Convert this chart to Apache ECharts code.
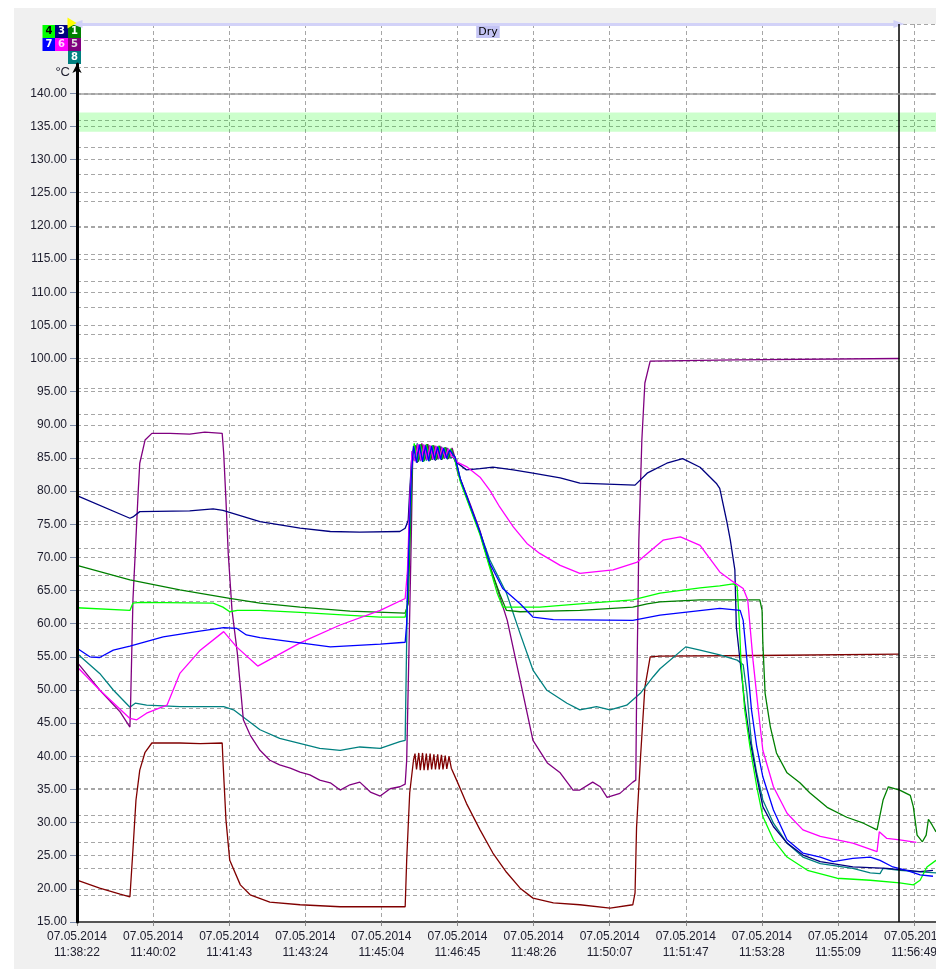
<!DOCTYPE html>
<html>
<head>
<meta charset="utf-8">
<title>Dry</title>
<script src="https://cdn.jsdelivr.net/npm/echarts@6.0.0/dist/echarts.min.js"></script>
<style>
  html, body { margin: 0; padding: 0; background: #fff; }
  #chart { position: absolute; left: 14px; top: 8px; width: 922px; height: 961px; }
</style>
</head>
<body>
<div id="chart"></div>
<script>
// x in seconds since 07.05.2014 11:38:22, y in °C
const logDate = '07.05.2014'
const xTickTimes = ['11:38:22', '11:40:02', '11:41:43', '11:43:24', '11:45:04', '11:46:45',
  '11:48:26', '11:50:07', '11:51:47', '11:53:28', '11:55:09', '11:56:49']
const xTickStep = 100.636
const timeEnd = 1136
const cursorTime = 1087
const phases = [{ name: 'Dry', start: 0, end: 1087 }]
const limitLine = 140
const tolBand = [134.2, 137.1]
// hidden second scale, only its grid lines are shown
const auxMax = 33.62

const ch1 = [[0,68.8],[70,66.6],[136,65.1],[202,63.8],[242,63.1],[295,62.5],[361,61.9],[434,61.6],
  [438,63.0],[441,75.0],[444,85.6],[447,86.9],[451,84.4],[455,87.0],[459,84.5],[463,87.1],[467,84.6],[471,86.9],
  [475,84.7],[479,86.8],[483,84.8],[487,86.6],[491,84.9],[495,86.3],[500,84.8],
  [507,81.6],[520,77.6],[533,73.6],[546,68.6],[559,64.5],[568,62.0],[586,61.8],[665,62.0],[735,62.5],[754,63.0],
  [771,63.3],[824,63.6],[903,63.6],[906,62.0],[907,57.1],[910,49.5],[917,44.4],[925,40.5],[939,37.5],[956,36.0],
  [969,34.5],[992,32.3],[1018,30.8],[1040,29.9],[1058,28.9],[1059,29.2],[1066,33.4],[1073,35.4],[1088,34.9],
  [1102,34.1],[1106,32.4],[1111,28.1],[1118,27.1],[1123,28.1],[1126,30.5],[1131,29.6],[1136,28.6]]

const ch2 = [[0,21.3],[30,20.1],[57,19.2],[70,18.8],[71,18.8],[74,25.9],[78,33.4],[83,37.9],[90,40.6],[99,42.0],
  [136,42.0],[163,41.9],[192,42.0],[193,39.4],[197,30.4],[202,24.3],[216,20.6],[229,19.1],[255,18.0],[295,17.6],
  [348,17.3],[401,17.3],[434,17.3],[436,24.3],[440,34.5],[445,39.4],[447,40.4],[449,38.0],[452,40.5],[454,37.9],
  [457,40.5],[459,37.9],[462,40.4],[464,37.9],[467,40.4],[469,38.0],[472,40.3],[474,38.0],[477,40.3],[479,38.0],
  [482,40.2],[484,38.0],[487,40.1],[489,38.1],[492,40.0],[495,38.2],[502,36.4],[515,32.9],[533,28.9],[550,25.4],
  [568,22.5],[586,20.1],[603,18.6],[630,17.9],[665,17.6],[705,17.1],[735,17.6],[738,19.4],[740,29.3],[745,39.4],
  [751,50.4],[758,55.0],[771,55.1],[900,55.2],[1087,55.4]]

const ch3 = [[0,79.3],[70,75.9],[74,76.1],[83,76.9],[149,77.0],[180,77.3],[193,77.1],[242,75.4],[295,74.4],
  [335,73.9],[374,73.8],[427,73.9],[434,74.4],[438,75.6],[440,80.0],[443,85.5],[446,86.6],[450,84.3],[454,86.9],
  [458,84.4],[462,87.0],[466,84.5],[470,86.8],[474,84.6],[478,86.7],[482,84.7],[486,86.5],[490,84.8],[494,86.2],
  [500,84.5],[502,84.2],[515,83.2],[533,83.4],[550,83.6],[577,83.2],[603,82.7],[639,82.0],[665,81.2],[692,81.1],
  [738,80.9],[754,82.7],[780,84.2],[801,84.9],[824,83.6],[846,81.1],[850,80.4],[859,75.6],[864,72.6],[870,68.1],
  [872,59.5],[883,48.0],[890,42.4],[899,36.9],[907,32.4],[921,29.4],[939,26.9],[960,25.1],[983,24.1],[1026,23.3],
  [1071,23.1],[1115,22.6],[1132,22.8]]

const ch4 = [[0,62.4],[70,62.0],[74,63.1],[83,63.2],[180,63.1],[193,62.5],[202,61.8],[212,62.0],[242,62.0],
  [295,61.7],[401,61.0],[434,61.0],[437,63.0],[440,74.0],[443,85.0],[446,87.2],[450,84.5],[454,87.1],[458,84.4],
  [462,87.0],[466,84.6],[470,86.9],[474,84.7],[478,86.8],[482,84.9],[486,86.6],[490,85.0],[494,86.4],[499,85.0],
  [507,81.4],[520,77.4],[533,73.4],[546,68.4],[556,64.5],[563,62.5],[612,62.5],[665,63.0],[735,63.6],[771,64.6],
  [824,65.4],[850,65.7],[868,66.0],[873,65.6],[876,60.0],[878,54.5],[883,47.0],[890,41.4],[899,35.4],[907,30.9],
  [921,27.4],[939,24.8],[966,22.8],[1005,21.6],[1049,21.3],[1088,20.9],[1106,20.6],[1115,21.3],[1124,23.3],
  [1136,24.3]]

const ch5 = [[0,54.2],[30,50.0],[57,46.7],[70,44.4],[71,48.5],[74,63.6],[77,70.6],[81,80.1],[83,84.2],[90,87.7],
  [99,88.7],[123,88.7],[149,88.6],[169,88.9],[192,88.7],[194,85.7],[197,78.6],[200,70.6],[205,62.0],[212,55.6],
  [220,45.5],[229,43.2],[242,40.9],[255,39.4],[268,38.7],[282,38.2],[295,37.6],[308,37.2],[321,36.4],[335,36.0],
  [348,34.9],[361,35.7],[374,36.1],[388,34.6],[401,34.0],[414,35.1],[427,35.4],[434,35.8],[436,39.4],[439,56.0],
  [442,72.6],[444,85.4],[448,86.9],[452,84.7],[456,87.2],[460,84.8],[464,87.1],[468,84.7],[472,86.9],[476,84.8],
  [480,86.8],[484,85.0],[488,86.6],[492,85.0],[496,86.5],[500,85.0],[503,83.0],[520,78.0],[533,74.0],[546,68.8],
  [569,60.5],[586,51.5],[603,42.4],[622,39.0],[639,37.5],[656,34.9],[665,34.9],[682,36.1],[692,35.4],[701,33.8],
  [718,34.4],[735,36.1],[739,36.4],[740,48.5],[742,63.6],[743,72.6],[747,87.7],[751,96.3],[758,99.6],[870,99.8],
  [1087,100.0]]

const ch6 = [[0,53.5],[30,50.0],[70,45.7],[79,45.5],[92,46.5],[119,47.7],[136,52.5],[163,56.0],[194,58.8],
  [211,56.5],[239,53.6],[295,57.1],[348,59.8],[401,62.0],[434,63.8],[437,68.0],[440,78.0],[443,86.0],[447,84.5],
  [451,87.1],[455,84.6],[459,87.0],[463,84.7],[467,86.9],[471,84.8],[475,86.8],[479,84.9],[483,86.6],[487,85.0],
  [491,86.4],[496,85.2],[500,85.0],[502,84.4],[515,83.7],[533,82.1],[546,80.1],[559,77.6],[577,74.6],[595,72.1],
  [612,70.6],[639,68.8],[665,67.6],[709,68.1],[741,69.3],[775,72.6],[798,73.1],[824,71.8],[850,67.8],[868,66.3],
  [881,65.3],[887,63.6],[894,54.5],[901,47.0],[907,40.9],[921,35.4],[939,31.4],[960,28.9],[983,27.9],[1026,26.9],
  [1058,25.6],[1061,28.6],[1071,27.6],[1088,27.4],[1110,27.0]]

const ch7 = [[0,56.3],[17,55.0],[30,54.9],[48,56.0],[70,56.6],[114,58.0],[158,58.8],[194,59.4],[211,59.3],
  [224,58.3],[242,57.9],[295,57.1],[335,56.5],[401,56.9],[434,57.2],[436,60.0],[439,72.0],[442,82.0],[445,86.8],
  [449,84.3],[453,87.0],[457,84.4],[461,86.9],[465,84.5],[469,86.8],[473,84.7],[477,86.7],[481,84.8],[485,86.5],
  [489,84.9],[493,86.2],[500,85.1],[507,81.8],[520,77.8],[533,73.8],[546,69.1],[563,65.3],[586,63.0],[603,61.0],
  [630,60.6],[735,60.5],[771,61.3],[850,62.3],[877,62.0],[881,60.5],[886,54.5],[892,47.0],[899,41.4],[907,36.9],
  [921,31.9],[939,27.4],[960,25.4],[983,24.8],[1000,24.1],[1026,24.6],[1049,24.8],[1062,24.3],[1079,23.3],
  [1097,22.8],[1115,22.1],[1132,21.9]]

const ch8 = [[0,55.5],[30,52.5],[48,50.0],[70,47.4],[77,48.0],[92,47.7],[136,47.5],[194,47.5],[207,47.0],
  [242,44.0],[268,42.7],[321,41.2],[348,40.9],[374,41.4],[401,41.2],[427,42.2],[434,42.4],[435,50.0],[437,65.0],
  [440,78.0],[443,86.0],[446,84.6],[450,87.2],[454,84.5],[458,87.0],[462,84.6],[466,86.9],[470,84.7],[474,86.8],
  [478,84.8],[482,86.7],[486,84.9],[490,86.5],[494,85.0],[500,85.2],[507,81.8],[520,77.8],[533,73.8],[546,69.6],
  [568,64.6],[586,58.5],[603,53.0],[621,50.0],[648,48.0],[665,47.0],[687,47.5],[705,47.0],[727,47.7],[745,49.5],
  [762,52.0],[771,53.2],[805,56.5],[824,56.0],[850,55.3],[873,54.5],[881,53.8],[886,49.5],[892,41.9],[899,37.4],
  [907,33.4],[921,29.9],[939,26.9],[960,24.8],[983,23.8],[1026,23.1],[1049,22.4],[1062,22.3],[1066,23.1],
  [1088,22.8],[1111,22.6],[1136,22.4]]

const channels = [
  { name: '2', color: '#800000', data: ch2 },
  { name: '8', color: '#008080', data: ch8 },
  { name: '5', color: '#800080', data: ch5 },
  { name: '3', color: '#000080', data: ch3 },
  { name: '1', color: '#008000', data: ch1 },
  { name: '4', color: '#00ff00', data: ch4 },
  { name: '6', color: '#ff00ff', data: ch6 },
  { name: '7', color: '#0000ff', data: ch7 }
]
// legend boxes, one column each
const legendColumns = [['4', '7'], ['3', '6'], ['1', '5', '8']]
const legendTextColor = { '4': '#000000', '3': '#ffffff', '1': '#ffffff', '7': '#ffffff', '6': '#ffd8ff', '5': '#e0e0e0', '8': '#ffffff' }

const chart = echarts.init(document.getElementById('chart'))

const fontFamily = 'Liberation Sans, Arial, sans-serif'
const dashed = { lineStyle: { color: '#a6a6a6', width: 1, type: [4, 3] } }

const rich = {}
channels.forEach(c => {
  rich['c' + c.name] = {
    backgroundColor: c.color,
    color: legendTextColor[c.name] || '#fff',
    width: 13, height: 13, lineHeight: 13, align: 'center',
    fontSize: 10, fontWeight: 'bold', fontFamily: 'DejaVu Sans'
  }
})
const legendLeft = [18.5, 31, 44]

function xLabel(v) {
  const i = Math.round(v / xTickStep)
  if (Math.abs(v - i * xTickStep) > 0.5 || i >= xTickTimes.length) return ''
  return logDate + '\n' + xTickTimes[i]
}

const phaseSeries = {
  name: 'phase', type: 'line', xAxisIndex: 0, yAxisIndex: 0, data: [], silent: true, clip: false,
  markLine: {
    silent: true,
    symbol: ['triangle', 'triangle'],
    symbolSize: [8, 11],
    lineStyle: { color: '#d2d2f8', width: 3, type: 'solid' },
    label: {
      show: true, position: 'insideMiddleBottom', formatter: '{b}', distance: 2,
      color: '#000', fontSize: 11, fontFamily: 'DejaVu Sans',
      backgroundColor: '#c4c4f4', padding: [1, 2, 0, 2]
    },
    data: phases.map(p => [{ coord: [p.start, auxMax], name: p.name }, { coord: [p.end, auxMax] }])
  },
  markPoint: {
    silent: true,
    symbol: 'triangle', symbolRotate: -90, symbolSize: [11, 9], symbolOffset: [-5, -1],
    itemStyle: { color: '#ffff00' },
    label: { show: false },
    data: phases.map(p => ({ coord: [p.start, auxMax] }))
  }
}

const cursorSeries = {
  name: 'cursor', type: 'line', xAxisIndex: 0, yAxisIndex: 0, data: [], silent: true,
  markLine: {
    silent: true, symbol: 'none',
    lineStyle: { color: '#000', width: 1.5, type: 'solid' },
    label: { show: false },
    data: [{ xAxis: cursorTime }]
  }
}

const limitSeries = {
  name: 'limit', type: 'line', xAxisIndex: 1, yAxisIndex: 1, data: [], silent: true,
  markLine: {
    silent: true, symbol: 'none',
    lineStyle: { color: '#a0a0a0', width: 1.5, type: 'solid' },
    label: { show: false },
    data: [{ yAxis: limitLine }]
  },
  markArea: {
    silent: true,
    itemStyle: { color: 'rgba(0,255,0,0.2)' },
    data: [[{ yAxis: tolBand[0] }, { yAxis: tolBand[1] }]]
  }
}

const dataSeries = channels.map(c => ({
  name: c.name, type: 'line', xAxisIndex: 1, yAxisIndex: 1,
  data: c.data, showSymbol: false, symbol: 'none', silent: true,
  itemStyle: { color: c.color },
  lineStyle: { color: c.color, width: 1.3 }
}))

const option = {
  animation: false,
  backgroundColor: '#f0f0f0',
  textStyle: { fontFamily: fontFamily },
  grid: [
    { left: 63, right: 0, top: 16, bottom: 47, show: true, backgroundColor: '#ffffff', borderWidth: 0, outerBoundsMode: 'none' },
    { left: 63, right: 0, top: 85.3, bottom: 47, outerBoundsMode: 'none' },
    { left: 63, right: 0, top: 56, bottom: 47, outerBoundsMode: 'none' }
  ],
  legend: legendColumns.map((col, i) => ({
    data: col, orient: 'vertical', left: legendLeft[i], top: 12,
    itemGap: 0, itemWidth: 0, itemHeight: 0, icon: 'rect', selectedMode: false,
    formatter: name => '{c' + name + '|' + name + '}',
    textStyle: { rich: rich }
  })),
  xAxis: [
    {
      gridIndex: 0, type: 'value', min: 0, max: timeEnd, interval: xTickStep,
      axisLine: { lineStyle: { color: '#555', width: 2 } },
      axisTick: { show: true, length: 4, lineStyle: { color: '#888' } },
      axisLabel: {
        formatter: xLabel, showMaxLabel: false, margin: 7,
        fontSize: 12, lineHeight: 16, color: '#202030', fontFamily: fontFamily
      },
      splitLine: dashed
    },
    { gridIndex: 1, type: 'value', min: 0, max: timeEnd, show: false },
    { gridIndex: 2, type: 'value', min: 0, max: timeEnd, show: false }
  ],
  yAxis: [
    {
      gridIndex: 0, type: 'value', min: 0, max: auxMax, interval: 1,
      axisLine: { show: false }, axisTick: { show: false }, axisLabel: { show: false },
      splitLine: dashed
    },
    {
      gridIndex: 1, type: 'value', min: 15, max: 140, interval: 5,
      axisLine: { show: false },
      axisTick: { show: true, length: 7, lineStyle: { color: '#7a8aa8' } },
      axisLabel: {
        formatter: v => v.toFixed(2), margin: 10,
        fontSize: 12, color: '#202030', fontFamily: fontFamily
      },
      splitLine: dashed
    },
    {
      gridIndex: 2, type: 'value', min: 0, max: 1, z: 10,
      name: '°C', nameLocation: 'end', nameGap: -2,
      nameTextStyle: { align: 'right', verticalAlign: 'top', padding: [0, 7, 0, 0], fontSize: 13, color: '#202030' },
      axisLine: { show: true, symbol: ['none', 'arrow'], symbolSize: [7, 9], lineStyle: { color: '#000', width: 3 } },
      axisTick: { show: false }, axisLabel: { show: false }, splitLine: { show: false }
    }
  ],
  series: [phaseSeries, cursorSeries, limitSeries].concat(dataSeries)
}

chart.setOption(option)
</script>
</body>
</html>
